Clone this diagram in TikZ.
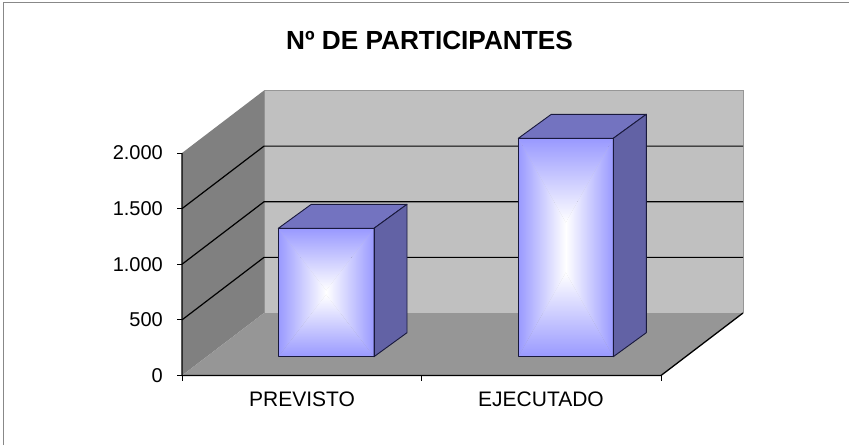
\documentclass[tikz,border=0pt]{standalone}
\usepackage{fontspec}
\setmainfont{Liberation Sans}
\definecolor{backwallc}{RGB}{192,192,192}
\definecolor{leftwallc}{RGB}{128,128,128}
\definecolor{floorc}{RGB}{150,150,150}
\definecolor{walledgec}{RGB}{150,150,150}
\definecolor{framec}{RGB}{136,136,136}
\definecolor{baredge}{RGB}{153,153,255}
\definecolor{bartop}{RGB}{115,115,192}
\definecolor{barside}{RGB}{98,98,165}
\definecolor{barline}{RGB}{25,25,60}
\newcommand{\mybarthreed}[5]{% L R T B halfsegment
  \coordinate (ca) at ({(#1+#2)/2},{(#3+#4)/2-#5});
  \coordinate (cb) at ({(#1+#2)/2},{(#3+#4)/2+#5});
  \shade[top color=baredge,bottom color=white] (#1,#3) -- (#2,#3) -- (ca) -- cycle;
  \shade[top color=white,bottom color=baredge] (#1,#4) -- (#2,#4) -- (cb) -- cycle;
  \shade[left color=baredge,right color=white] (#1,#3) -- (ca) -- (cb) -- (#1,#4) -- cycle;
  \shade[left color=white,right color=baredge] (#2,#3) -- (ca) -- (cb) -- (#2,#4) -- cycle;
  \filldraw[fill=bartop,barstroke] (#1,#3) -- (#2,#3) -- ++(33,-24) -- ({#1+33},{#3-24}) -- cycle;
  \filldraw[fill=barside,barstroke] (#2,#3) -- ++(33,-24) -- ({#2+33},{#4-24}) -- (#2,#4) -- cycle;
  \draw[barstroke] (#1,#3) rectangle (#2,#4);
}
\begin{document}
\begin{tikzpicture}[x=1pt,y=-1pt,
  barstroke/.style={draw=barline,line width=0.9pt,line join=round},
  gridline/.style={draw=black,line width=1.2pt},
  axisline/.style={draw=black,line width=1.3pt},
  ticklabel/.style={anchor=east,inner sep=0pt,font=\fontsize{20}{24}\selectfont},
  catlabel/.style={inner sep=0pt,font=\fontsize{21}{25}\selectfont},
  titlelabel/.style={inner sep=0pt,font=\bfseries\fontsize{26.2}{31}\selectfont}]
\useasboundingbox (0,0) rectangle (849,445);
\fill[white] (0,0) rectangle (849,445);
\draw[framec,line width=1.4pt] (3.3,445) -- (3.3,2.5) -- (849,2.5);
% corners
\coordinate (FO) at (182,375.5);
\coordinate (FT) at (182,153);
\coordinate (BO) at (264,313);
\coordinate (BT) at (264,90.5);
\coordinate (BR) at (743,313);
\coordinate (BRT) at (743,90.5);
\coordinate (FR) at (661,375.5);
% walls
\fill[backwallc] (BO) rectangle (BRT);
\draw[walledgec,line width=1pt] (BO) -- (BT) -- (BRT) -- (BR);
\fill[leftwallc] (FO) -- (FT) -- (BT) -- (BO) -- cycle;
\fill[floorc] (FO) -- (BO) -- (BR) -- (FR) -- cycle;
% grid lines
\foreach \v in {500,1000,1500}{
  \draw[gridline] (182,{375.5-\v*0.11125}) -- ++(82,-62.5) -- ++(479,0);
}
% axes
\draw[axisline] (FT) -- (FO) -- (FR) -- (BR);
\foreach \v in {0,500,1000,1500,2000}{
  \draw[black,line width=1pt] (177,{375.5-\v*0.11125}) -- (182,{375.5-\v*0.11125});
}
\foreach \x in {182,421,661}{
  \draw[black,line width=1pt] (\x,375.5) -- (\x,381);
}
% bars
\mybarthreed{278.3}{374}{228.3}{356.7}{2}
\mybarthreed{518.3}{613.3}{138.3}{356.7}{25}
% tick labels
\node[ticklabel] (t0) at (163,375.5) {0};
\node[ticklabel] (t500) at (163,319.9) {500};
\node[ticklabel] (t1000) at (163,264.3) {1.000};
\node[ticklabel] (t1500) at (163,208.6) {1.500};
\node[ticklabel] (t2000) at (163,153) {2.000};
% category labels
\node[catlabel] (prev) at (302,399) {PREVISTO};
\node[catlabel] (ejec) at (541,399) {EJECUTADO};
% title
\node[titlelabel] (title) at (429.5,40) {Nº DE PARTICIPANTES};
\end{tikzpicture}
\end{document}
